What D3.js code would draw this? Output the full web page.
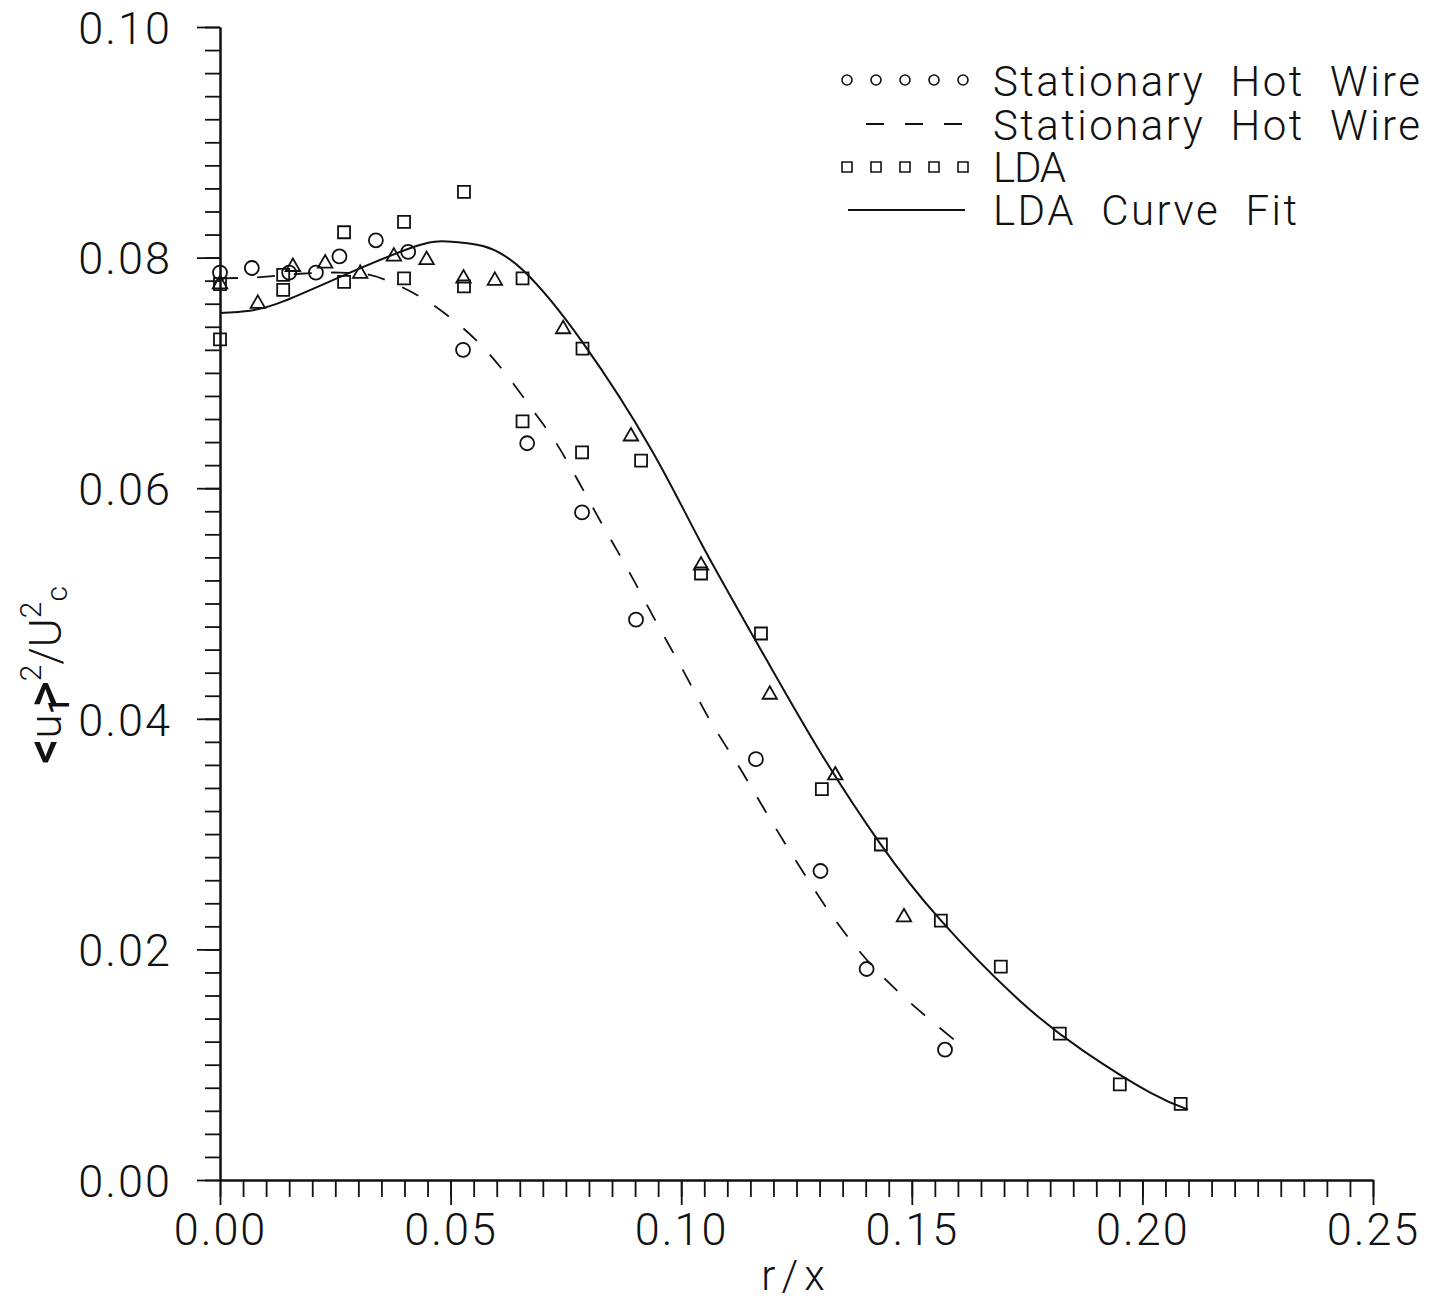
<!DOCTYPE html>
<html>
<head>
<meta charset="utf-8">
<script src="https://cdn.jsdelivr.net/npm/d3@7"></script>
<style>
  html, body { margin: 0; padding: 0; background: #fff; }
  svg { display: block; }
  text { font-family: Roboto, "DejaVu Sans", sans-serif; font-weight: 300; fill: #111; }
</style>
</head>
<body>
<svg id="chart" width="1441" height="1301"></svg>
<script>
// Stationary hot wire measurements (circles)
const hotWireR = [0, 0.0069, 0.0150, 0.0208, 0.0259, 0.0338, 0.0408, 0.0527, 0.0666, 0.0785, 0.0902, 0.1162, 0.1302, 0.1402, 0.1572];
const hotWireV = [0.0787, 0.0791, 0.0787, 0.0787, 0.0801, 0.0815, 0.0805, 0.0720, 0.0639, 0.0579, 0.0486, 0.0365, 0.0268, 0.0183, 0.0113];

// Stationary hot wire fit (dashed)
const hotWireFitR = [0, 0.0087, 0.0173, 0.0260, 0.0325, 0.0369, 0.0434, 0.0499, 0.0564, 0.0618, 0.0672, 0.0726, 0.0770, 0.0824, 0.0885, 0.0943, 0.1004, 0.1062, 0.1132, 0.1193, 0.1258, 0.1331, 0.1409, 0.1496, 0.1600];
const hotWireFitV = [0.0782, 0.0783, 0.0786, 0.0787, 0.0785, 0.0779, 0.0766, 0.0748, 0.0725, 0.0700, 0.0671, 0.0641, 0.0611, 0.0572, 0.0529, 0.0486, 0.0442, 0.0399, 0.0354, 0.0313, 0.0271, 0.0227, 0.0188, 0.0154, 0.0119];

// Triangle series
const triangleR = [0, 0.0082, 0.0158, 0.0228, 0.0304, 0.0377, 0.0448, 0.0528, 0.0596, 0.0744, 0.0891, 0.1043, 0.1192, 0.1334, 0.1483];
const triangleV = [0.0777, 0.0760, 0.0792, 0.0795, 0.0786, 0.0801, 0.0798, 0.0782, 0.0780, 0.0738, 0.0645, 0.0533, 0.0421, 0.0351, 0.0228];

// LDA measurements (squares)
const ldaR = [0, 0, 0.0137, 0.0137, 0.0269, 0.0269, 0.0399, 0.0399, 0.0529, 0.0529, 0.0656, 0.0656, 0.0786, 0.0785, 0.0913, 0.1043, 0.1173, 0.1305, 0.1433, 0.1563, 0.1693, 0.1821, 0.1951, 0.2083];
const ldaV = [0.0729, 0.0777, 0.0772, 0.0785, 0.0822, 0.0779, 0.0831, 0.0782, 0.0857, 0.0775, 0.0782, 0.0658, 0.0721, 0.0631, 0.0624, 0.0526, 0.0474, 0.0339, 0.0291, 0.0225, 0.0185, 0.0127, 0.0083, 0.0066];

// LDA curve fit (solid)
const ldaFitR = [0, 0.0065, 0.0137, 0.0282, 0.0426, 0.0494, 0.0570, 0.0657, 0.0787, 0.0936, 0.1041, 0.1164, 0.1294, 0.1431, 0.1561, 0.1727, 0.1872, 0.2016, 0.2099];
const ldaFitV = [0.0752, 0.0754, 0.0762, 0.0787, 0.0810, 0.0814, 0.0810, 0.0789, 0.0726, 0.0633, 0.0554, 0.0466, 0.0376, 0.0292, 0.0226, 0.0158, 0.0112, 0.0076, 0.0061];

// Axis ticks
const xMajorTicks = [0, 0.05, 0.10, 0.15, 0.20, 0.25];
const yMajorTicks = [0, 0.02, 0.04, 0.06, 0.08, 0.10];
const xMinorStep = 0.005;
const yMinorStep = 0.002;

// Legend entries
const legendLabels = ["Stationary  Hot  Wire", "Stationary  Hot  Wire", "LDA", "LDA  Curve  Fit"];
const legendKinds = ["circle", "dash", "square", "solid"];

const svg = d3.select("#chart");
const x = d3.scaleLinear().domain([0, 0.25]).range([220, 1373]);
const y = d3.scaleLinear().domain([0, 0.10]).range([1180, 27]);

const zip = (a, b) => a.map((v, i) => [v, b[i]]);

// ---- axes ----
const xMinor = d3.range(0, 0.25 + 1e-9, xMinorStep);
const yMinor = d3.range(0, 0.10 + 1e-9, yMinorStep);

const gxMinor = svg.append("g").attr("transform", "translate(0,1180)")
  .call(d3.axisBottom(x).tickValues(xMinor).tickSize(17).tickSizeOuter(0).tickFormat(""));
const gx = svg.append("g").attr("transform", "translate(0,1180)")
  .call(d3.axisBottom(x).tickValues(xMajorTicks).tickSize(25).tickSizeOuter(0).tickPadding(8)
    .tickFormat(d3.format(".2f")));
const gyMinor = svg.append("g").attr("transform", "translate(220,0)")
  .call(d3.axisLeft(y).tickValues(yMinor).tickSize(15).tickSizeOuter(0).tickFormat(""));
const gy = svg.append("g").attr("transform", "translate(220,0)")
  .call(d3.axisLeft(y).tickValues(yMajorTicks).tickSize(23).tickSizeOuter(0).tickPadding(25)
    .tickFormat(d3.format(".2f")));

[gxMinor, gx, gyMinor, gy].forEach(g => {
  g.select(".domain").attr("stroke", "#111").attr("stroke-width", 2);
  g.selectAll(".tick line").attr("stroke", "#111").attr("stroke-width", 1.8);
});
gx.selectAll(".tick text")
  .attr("font-family", "Roboto, 'DejaVu Sans', sans-serif").attr("font-weight", 300)
  .attr("font-size", 45).attr("fill", "#111").attr("letter-spacing", "2px");
gy.selectAll(".tick text")
  .attr("font-family", "Roboto, 'DejaVu Sans', sans-serif").attr("font-weight", 300)
  .attr("font-size", 45).attr("fill", "#111").attr("letter-spacing", "2px").attr("dy", "0.36em");

// axis titles
svg.append("text").attr("x", 796).attr("y", 1290).attr("text-anchor", "middle")
  .attr("font-size", 42).attr("letter-spacing", "6px").text("r/x");

const yTitle = svg.append("text")
  .attr("transform", "translate(61,675) rotate(-90)")
  .attr("text-anchor", "middle").attr("font-size", 44);
yTitle.append("tspan").attr("font-weight", 500).attr("font-size", 50).text("<");
yTitle.append("tspan").text("u");
yTitle.append("tspan").attr("font-size", 30).attr("font-weight", 500).attr("dy", 8).text("1");
yTitle.append("tspan").attr("font-weight", 500).attr("font-size", 50).attr("dx", -10).attr("dy", -8).text(">");
yTitle.append("tspan").attr("font-size", 30).attr("dy", -20).text("2");
yTitle.append("tspan").attr("dy", 20).text("/U");
yTitle.append("tspan").attr("font-size", 30).attr("dy", -20).text("2");
yTitle.append("tspan").attr("font-size", 30).attr("dy", 26).text("c");

// ---- curves ----
const dashedLine = d3.line().x(d => x(d[0])).y(d => y(d[1])).curve(d3.curveCatmullRom.alpha(0.5));
const solidLine = d3.line().x(d => x(d[0])).y(d => y(d[1])).curve(d3.curveNatural);

svg.append("path").datum(zip(hotWireFitR, hotWireFitV))
  .attr("d", dashedLine).attr("fill", "none").attr("stroke", "#111")
  .attr("stroke-width", 1.8).attr("stroke-dasharray", "18,19");

svg.append("path").datum(zip(ldaFitR, ldaFitV))
  .attr("d", solidLine).attr("fill", "none").attr("stroke", "#111").attr("stroke-width", 2);

// ---- markers ----
const circleSym = d3.symbol().type(d3.symbolCircle).size(Math.PI * 7 * 7);
const squareSym = d3.symbol().type(d3.symbolSquare).size(12 * 12);
const triSym = d3.symbol().type(d3.symbolTriangle).size(90);

function drawMarkers(pts, sym) {
  svg.append("g").selectAll("path").data(pts).join("path")
    .attr("transform", d => `translate(${x(d[0])},${y(d[1])})`)
    .attr("d", sym).attr("fill", "none").attr("stroke", "#111").attr("stroke-width", 1.8);
}
drawMarkers(zip(hotWireR, hotWireV), circleSym);
drawMarkers(zip(triangleR, triangleV), triSym);
drawMarkers(zip(ldaR, ldaV), squareSym);

// ---- legend ----
const legend = svg.append("g");
const rowY = [80, 124, 167, 210];
const baseY = [96, 140, 182, 225];
const textWidth = [427, 427, 73, 304];
const sampleX = d3.range(5).map(i => 847 + i * 29);
const smallCircle = d3.symbol().type(d3.symbolCircle).size(Math.PI * 5 * 5);
const smallSquare = d3.symbol().type(d3.symbolSquare).size(10 * 10);

legendKinds.forEach((kind, i) => {
  const cy = rowY[i];
  if (kind === "circle" || kind === "square") {
    legend.append("g").selectAll("path").data(sampleX).join("path")
      .attr("transform", d => `translate(${d},${cy})`)
      .attr("d", kind === "circle" ? smallCircle : smallSquare)
      .attr("fill", "none").attr("stroke", "#111").attr("stroke-width", 1.6);
  } else {
    legend.append("line").attr("x1", kind === "dash" ? 866 : 848).attr("x2", kind === "dash" ? 962 : 965)
      .attr("y1", cy).attr("y2", cy).attr("stroke", "#111").attr("stroke-width", 1.8)
      .attr("stroke-dasharray", kind === "dash" ? "18,21" : null);
  }
  legend.append("text").attr("x", 993).attr("y", baseY[i])
    .attr("font-size", 42).attr("textLength", textWidth[i]).attr("lengthAdjust", "spacing")
    .style("white-space", "pre").text(legendLabels[i]);
});
</script>
</body>
</html>
